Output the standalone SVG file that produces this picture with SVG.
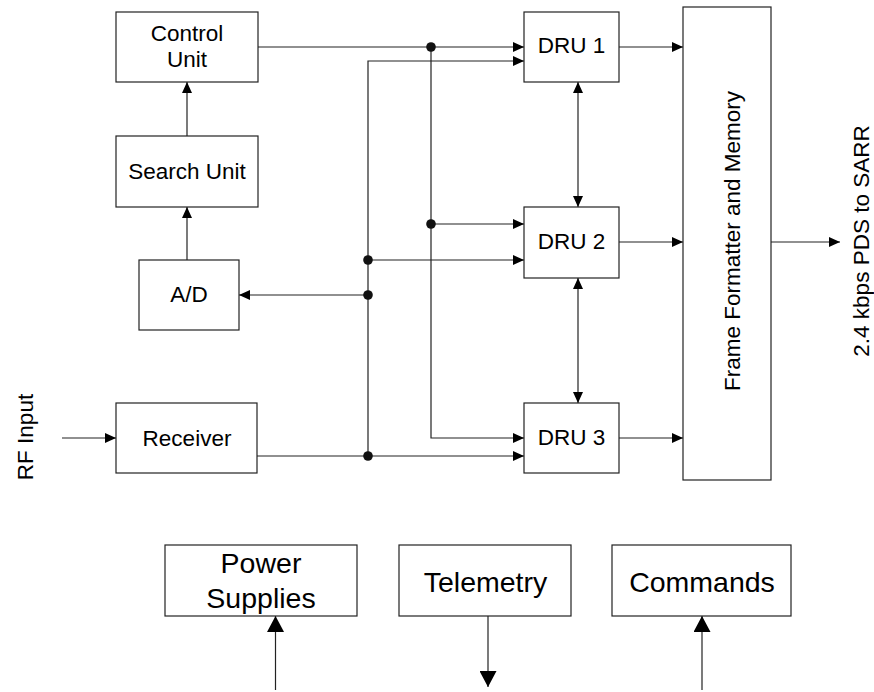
<svg xmlns="http://www.w3.org/2000/svg" width="874" height="692" viewBox="0 0 874 692">
<style>
.box{fill:#fff;stroke:#222;stroke-width:1.2}
.ln{fill:none;stroke:#222;stroke-width:1.2}
.t{font-family:"Liberation Sans",Arial,sans-serif;font-size:22.5px;fill:#000;text-anchor:middle}
.tb{font-family:"Liberation Sans",Arial,sans-serif;font-size:28.5px;fill:#000;text-anchor:middle}
.dot{fill:#111}
</style>
<defs>
<marker id="a" markerUnits="userSpaceOnUse" markerWidth="11" markerHeight="10" refX="11" refY="5" orient="auto-start-reverse">
<path d="M0,0 L11,5 L0,10 z" fill="#000"/>
</marker>
<marker id="b" markerUnits="userSpaceOnUse" markerWidth="16" markerHeight="17" refX="16" refY="8.5" orient="auto">
<path d="M0,0 L16,8.5 L0,17 z" fill="#000"/>
</marker>
</defs>
<rect width="874" height="692" fill="#fff"/>
<g id="connectors">
<line class="ln" x1="258" y1="47" x2="524" y2="47" marker-end="url(#a)"/>
<polyline class="ln" points="368,456 368,61 524,61" marker-end="url(#a)"/>
<polyline class="ln" points="431,47 431,438 524,438" marker-end="url(#a)"/>
<line class="ln" x1="431" y1="224" x2="524" y2="224" marker-end="url(#a)"/>
<line class="ln" x1="368" y1="260" x2="524" y2="260" marker-end="url(#a)"/>
<line class="ln" x1="368" y1="295" x2="239" y2="295" marker-end="url(#a)"/>
<line class="ln" x1="257" y1="456" x2="524" y2="456" marker-end="url(#a)"/>
<line class="ln" x1="62" y1="438" x2="116" y2="438" marker-end="url(#a)"/>
<line class="ln" x1="187" y1="136" x2="187" y2="82" marker-end="url(#a)"/>
<line class="ln" x1="187" y1="260" x2="187" y2="207" marker-end="url(#a)"/>
<line class="ln" x1="578" y1="82" x2="578" y2="207" marker-start="url(#a)" marker-end="url(#a)"/>
<line class="ln" x1="578" y1="278" x2="578" y2="403" marker-start="url(#a)" marker-end="url(#a)"/>
<line class="ln" x1="619" y1="47" x2="683" y2="47" marker-end="url(#a)"/>
<line class="ln" x1="619" y1="242" x2="683" y2="242" marker-end="url(#a)"/>
<line class="ln" x1="619" y1="438" x2="683" y2="438" marker-end="url(#a)"/>
<line class="ln" x1="771" y1="242" x2="840" y2="242" marker-end="url(#a)"/>
<line class="ln" x1="275.5" y1="690" x2="275.5" y2="616" marker-end="url(#b)"/>
<line class="ln" x1="488" y1="616" x2="488" y2="687" marker-end="url(#b)"/>
<line class="ln" x1="702" y1="690" x2="702" y2="616" marker-end="url(#b)"/>
<circle class="dot" cx="431" cy="47" r="4.8"/>
<circle class="dot" cx="431" cy="224" r="4.8"/>
<circle class="dot" cx="368" cy="260" r="4.8"/>
<circle class="dot" cx="368" cy="295" r="4.8"/>
<circle class="dot" cx="368" cy="456" r="4.8"/>
</g>
<g id="control-unit"><rect class="box" x="116" y="12" width="142" height="70"/><text class="t" x="187" y="41">Control</text><text class="t" x="187" y="67">Unit</text></g>
<g id="search-unit"><rect class="box" x="116" y="136" width="142" height="71"/><text class="t" x="187" y="179">Search Unit</text></g>
<g id="ad"><rect class="box" x="139" y="260" width="100" height="70"/><text class="t" x="189" y="302">A/D</text></g>
<g id="receiver"><rect class="box" x="116" y="403" width="141" height="70"/><text class="t" x="187" y="446">Receiver</text></g>
<g id="dru1"><rect class="box" x="524" y="12" width="95" height="70"/><text class="t" x="571.5" y="53">DRU 1</text></g>
<g id="dru2"><rect class="box" x="524" y="207" width="95" height="71"/><text class="t" x="571.5" y="249">DRU 2</text></g>
<g id="dru3"><rect class="box" x="524" y="403" width="95" height="70"/><text class="t" x="571.5" y="445">DRU 3</text></g>
<g id="frame"><rect class="box" x="683" y="7" width="88" height="473"/><text class="t" transform="translate(740,241) rotate(-90)">Frame Formatter and Memory</text></g>
<g id="output-label"><text class="t" transform="translate(869,241) rotate(-90)">2.4 kbps PDS to SARR</text></g>
<g id="rf-input"><text class="t" transform="translate(33,437) rotate(-90)">RF Input</text></g>
<g id="power"><rect class="box" x="165" y="545" width="192" height="71"/><text class="tb" x="261" y="573">Power</text><text class="tb" x="261" y="608">Supplies</text></g>
<g id="telemetry"><rect class="box" x="399" y="545" width="172" height="71"/><text class="tb" x="485.5" y="592">Telemetry</text></g>
<g id="commands"><rect class="box" x="612" y="545" width="179" height="71"/><text class="tb" x="702" y="592">Commands</text></g>
</svg>
